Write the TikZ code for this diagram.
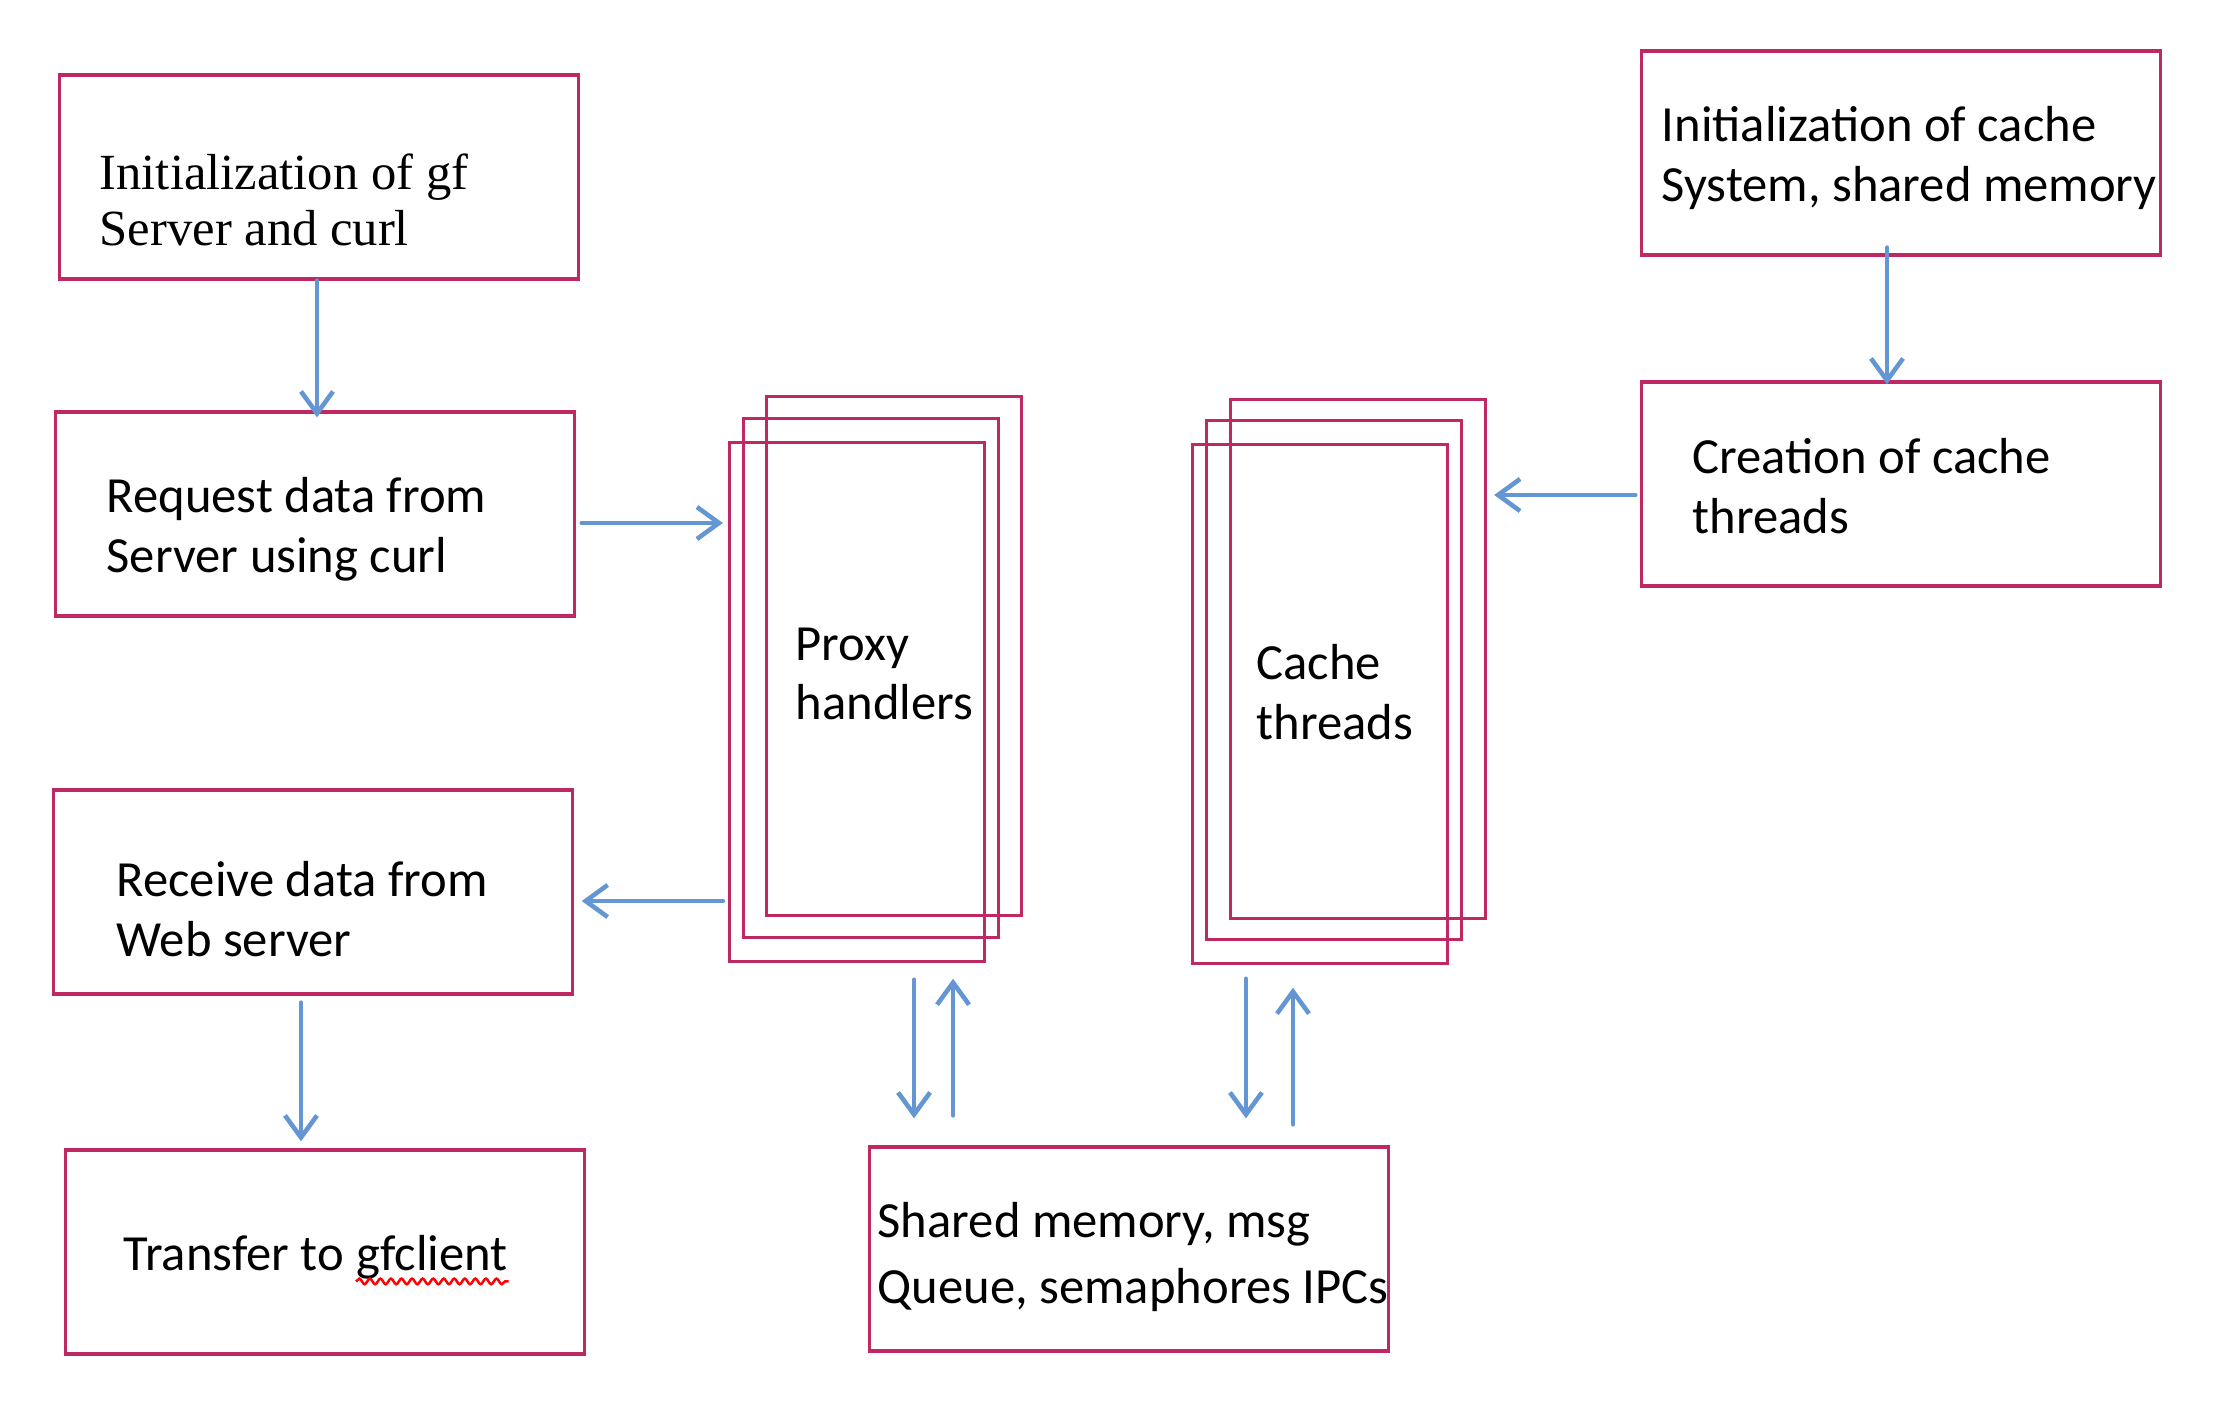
\documentclass[tikz,border=0pt]{standalone}
\usepackage{fontspec}
\setmainfont{Carlito}
\newfontfamily\serifgf{Liberation Serif}
\usetikzlibrary{arrows.meta,decorations.pathmorphing}
\definecolor{boxred}{RGB}{192,40,100}
\definecolor{flowblue}{RGB}{100,150,212}
\tikzset{
  box/.style={draw=boxred, line width=0.9pt, minimum width=5.18cm, minimum height=2.04cm},
  stackbox/.style={draw=boxred, line width=0.9pt, minimum width=2.55cm, minimum height=5.18cm},
  txt/.style={anchor=west, align=left, inner sep=0pt, font=\fontsize{14.4}{17}\selectfont},
  flow/.style={draw=flowblue, line width=1.3pt, line cap=round, -{Straight Barb[length=0.22cm,width=0.32cm]}},
  spell/.style={draw=red, line width=0.7pt, decorate, decoration={snake, amplitude=0.8pt, segment length=3pt}}
}
\begin{document}
\begin{tikzpicture}[x=0.01cm, y=-0.01cm]
\useasboundingbox (0,0) rectangle (2218,1428);
% left column
\node[box] (initgf) at (319,177) {};
\node[box] (request) at (315,514) {};
\node[box] (receive) at (313,892) {};
\node[box] (transfer) at (325,1252) {};
\node[txt, font={\serifgf\fontsize{14.4}{16}\selectfont}] (initgftxt) at (99,200) {Initialization of gf\\Server and curl};
\node[txt] (requesttxt) at (106,529) {Request data from\\Server using curl};
\node[txt] (receivetxt) at (116,909) {Receive data from\\Web server};
\node[txt] (transfertxt) at (123,1253) {Transfer to};
\node[txt, anchor=base west, xshift=3.3pt] (gfword) at (transfertxt.base east) {gfclient};
\draw[spell] ([yshift=-3.2pt]gfword.base west) -- ([yshift=-3.2pt]gfword.base east);
% stacked handlers
\node[stackbox] (pback) at (894,656) {};
\node[stackbox] (pmid) at (871,678) {};
\node[stackbox] (pfront) at (857,702) {};
\node[txt] (proxytxt) at (795,674) {Proxy\\handlers};
\node[stackbox] (cback) at (1358,659) {};
\node[stackbox] (cmid) at (1334,680) {};
\node[stackbox] (cfront) at (1320,704) {};
\node[txt] (cachetxt) at (1256,692) {Cache\\threads};
% right column and IPC
\node[box] (initcache) at (1901,153) {};
\node[box] (creation) at (1901,484) {};
\node[box] (shared) at (1129,1249) {};
\node[txt] (initcachetxt) at (1661,158) {Initialization of cache\\System, shared memory};
\node[txt] (creationtxt) at (1692,486) {Creation of cache\\threads};
\node[txt, font=\fontsize{14.4}{18.5}\selectfont] (sharedtxt) at (877,1257) {Shared memory, msg\\Queue, semaphores IPCs};
% arrows
\draw[flow] ([xshift=-0.02cm]initgf.south) -- ([xshift=-0.02cm,yshift=-0.07cm]initgf.south |- request.north);
\draw[flow] ([xshift=0.06cm,yshift=-0.09cm]request.east) -- ([xshift=-0.05cm,yshift=-0.09cm]request.east -| pfront.west);
\draw[flow] ([xshift=-0.05cm,yshift=-0.09cm]receive.east -| pfront.west) -- ([xshift=0.08cm,yshift=-0.09cm]receive.east);
\draw[flow] ([xshift=-0.12cm,yshift=-0.07cm]receive.south) -- ([xshift=-0.12cm,yshift=0.07cm]receive.south |- transfer.north);
\draw[flow] ([xshift=-0.14cm,yshift=0.09cm]initcache.south) -- ([xshift=-0.14cm,yshift=-0.04cm]initcache.south |- creation.north);
\draw[flow] ([xshift=-0.05cm,yshift=-0.11cm]creation.west) -- ([xshift=0.07cm,yshift=-0.11cm]creation.west -| cback.east);
\draw[flow] ([xshift=0.57cm,yshift=-0.17cm]pfront.south) -- ([xshift=0.57cm,yshift=0.27cm]pfront.south |- shared.north);
\draw[flow] ([xshift=0.96cm,yshift=0.30cm]pfront.south |- shared.north) -- ([xshift=0.96cm,yshift=-0.16cm]pfront.south);
\draw[flow] ([xshift=-0.74cm,yshift=-0.14cm]cfront.south) -- ([xshift=-0.74cm,yshift=0.27cm]cfront.south |- shared.north);
\draw[flow] ([xshift=-0.27cm,yshift=0.21cm]cfront.south |- shared.north) -- ([xshift=-0.27cm,yshift=-0.23cm]cfront.south);
\end{tikzpicture}
\end{document}
